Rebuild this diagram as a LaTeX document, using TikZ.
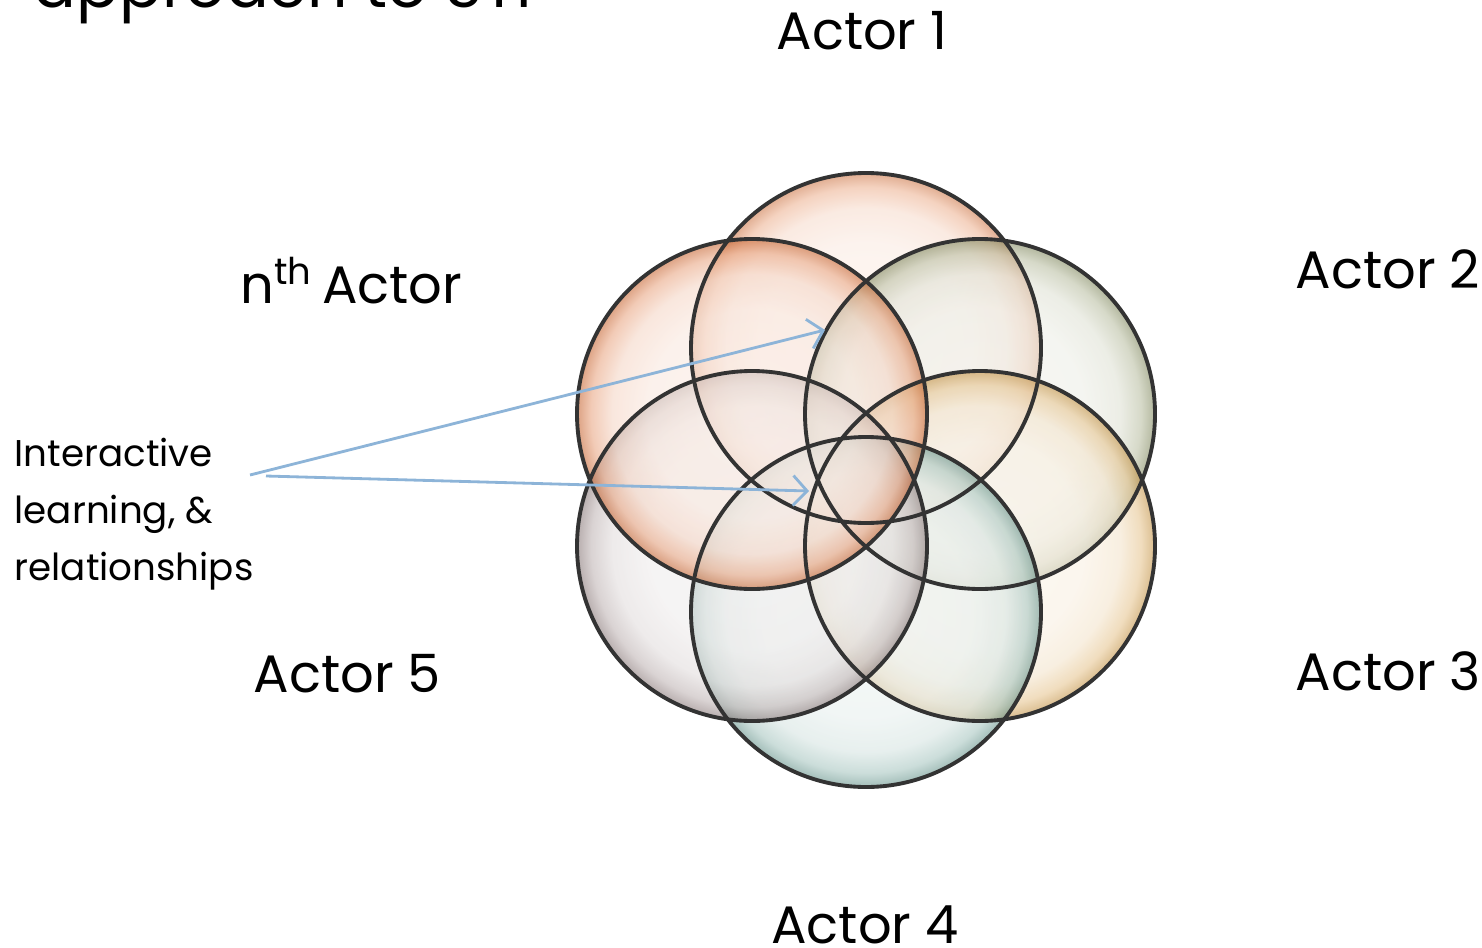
\documentclass[tikz,border=0pt]{standalone}
\usepackage{fontspec}
\setmainfont{Poppins}
\usepackage{xcolor}
\usepackage{tikz}
\usetikzlibrary{arrows.meta, positioning, calc}

% bubble tints
\definecolor{actorone}{HTML}{E2834F}
\definecolor{actortwo}{HTML}{8E9668}
\definecolor{actorthree}{HTML}{D6A04A}
\definecolor{actorfour}{HTML}{6FA198}
\definecolor{actorfive}{HTML}{978585}
\definecolor{actornth}{HTML}{DB6E35}
\definecolor{linkblue}{HTML}{8DB4D8}
\colorlet{bubtint}{gray}

% the path edge sits at 25bp
\pgfdeclareradialshading[bubtint]{bubble}{\pgfpoint{0bp}{0bp}}{%
  color(0bp)=(bubtint!12!white); color(15bp)=(bubtint!16!white);
  color(20bp)=(bubtint!28!white); color(23bp)=(bubtint!60!white);
  color(25bp)=(bubtint!90!black); color(50bp)=(bubtint!90!black)}

\begin{document}
\begin{tikzpicture}[
    % Styles
    bubble/.style={circle, minimum size=35mm, inner sep=0pt, outer sep=0pt,
                   /utils/exec={\colorlet{bubtint}{#1}}, shading=bubble, shade,
                   fill opacity=0.6},
    rim/.style={draw=black!80, line width=1.1pt},
    lbl/.style={font=\fontsize{15}{18}\selectfont, inner sep=0pt},
    note/.style={font=\fontsize{10.6}{16.3}\selectfont, inner sep=0pt, align=left},
    title/.style={font=\fontsize{18}{22}\selectfont, inner sep=0pt},
    arrow/.style={-{Straight Barb[length=1.4mm, width=3mm]}, linkblue, line width=0.8pt}
  ]
    \useasboundingbox (0,0) rectangle (14.82,-9.47);
    \clip (0,0) rectangle (14.82,-9.47);

    % === Title (cut off at the top) ===
    \node[title, anchor=base west] (title) at (0.33,-0.08) {approach to STI};

    % === Actor bubbles ===
    \node[bubble=actorone] (one) at (8.66,-3.48) {};
    \node[bubble=actortwo] (two) at (9.80,-4.14) {};
    \node[bubble=actorthree] (three) at (9.80,-5.46) {};
    \node[bubble=actorfour] (four) at (8.66,-6.12) {};
    \node[bubble=actorfive] (five) at (7.52,-5.46) {};
    \node[bubble=actornth] (nth) at (7.52,-4.14) {};

    % outlines on top of all fills
    \foreach \b in {one, two, three, four, five, nth}
      \draw[rim] (\b.center) circle (1.75);

    % === Actor labels ===
    \node[lbl, anchor=base] (lblone) at (8.62,-0.50) {Actor 1};
    \node[lbl, anchor=base west] (lbltwo) at (12.95,-2.88) {Actor 2};
    \node[lbl, anchor=base west] (lblthree) at (12.95,-6.90) {Actor 3};
    \node[lbl, anchor=base] (lblfour) at (8.65,-9.43) {Actor 4};
    \node[lbl, anchor=base west] (lblfive) at (2.53,-6.92) {Actor 5};
    \node[lbl, anchor=base west] (lblnth) at (2.40,-3.03) {n\textsuperscript{th}\,Actor};

    % === Interactive learning note ===
    \node[note, anchor=north west] (note) at (0.14,-4.37) {Interactive\\learning, \&\\relationships};

    % === Links into the overlaps ===
    \coordinate (srcup) at (2.50,-4.75);
    \coordinate (srcdown) at (2.66,-4.76);
    \coordinate (tipup) at (8.25,-3.30);
    \coordinate (tipdown) at (8.09,-4.91);
    \draw[arrow] (srcup) -- (tipup);
    \draw[arrow] (srcdown) -- (tipdown);

  \end{tikzpicture}
\end{document}
